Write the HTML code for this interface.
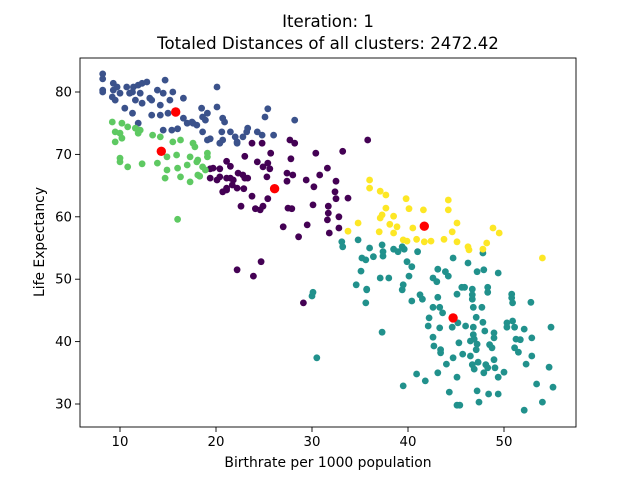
<!DOCTYPE html>
<html><head><meta charset="utf-8"><style>
html,body{margin:0;padding:0;background:#fff;}
svg{display:block;font-family:"DejaVu Sans","Liberation Sans",sans-serif;}
</style></head><body>
<svg id="chart" width="640" height="480" viewBox="0 0 640 480">
<rect x="0" y="0" width="640" height="480" fill="#fff"/>
<text x="328" y="27" text-anchor="middle" font-size="16.6" fill="#000">Iteration: 1</text>
<text x="328" y="49" text-anchor="middle" font-size="16.6" fill="#000">Totaled Distances of all clusters: 2472.42</text>
<g id="plot"></g>
<g id="axes"></g>
<text x="328" y="467" text-anchor="middle" font-size="13.9" fill="#000">Birthrate per 1000 population</text>
<text x="44" y="242" text-anchor="middle" font-size="13.9" fill="#000" transform="rotate(-90 44 242)">Life Expectancy</text>
</svg>
<script>
const xTicks=[10,20,30,40,50];
const yTicks=[30,40,50,60,70,80];
const clusterNames=['purple','blue','teal','green','yellow'];
const clusterColors=['#440154','#3b528b','#21918c','#5ec962','#fde725'];
const bluePoints=[[8.2,82.9],[8.2,82.1],[8.2,80.3],[8.2,80.0],[9.3,81.4],[9.3,80.3],[9.2,79.2],[9.7,80.8],[10,79.8],[9.5,78.7],[10.7,80.8],[11.0,79.8],[11.4,80.8],[11.9,81.1],[12.3,81.4],[12.8,81.6],[12.1,79.8],[11.6,78.7],[12.3,78.2],[11.3,80.0],[13.1,79.0],[13.3,78.7],[13.9,80.3],[14.7,81.9],[14.5,79.8],[15.5,80.0],[14.2,77.9],[15.2,78.7],[16.6,79.0],[10.5,77.4],[11.3,76.6],[11.9,75.0],[13.3,76.3],[14.2,76.3],[15.0,76.6],[16.6,75.8],[17.0,75.0],[17.5,75.2],[18.0,74.7],[19.1,76.6],[18.9,75.5],[20.1,80.8],[20.9,75.2],[14.5,73.9],[15.4,73.9],[16.0,74.1],[18.6,73.6],[19.1,72.3],[20.6,73.6],[20.7,72.3],[21.5,73.6],[22.0,72.8],[22.2,72.0],[22.8,72.8],[23.2,73.6],[18.5,77.4],[20.1,77.6],[25.4,77.3],[25.1,76.0],[28.2,75.5],[20.7,75.8],[18.6,76.0],[23.3,74.2],[24.3,73.6],[24.8,73.1],[26.0,73.1],[20.4,71.8],[19.4,72.5],[22.2,71.8],[17.6,75.0]];
const greenPoints=[[9.2,75.2],[10.2,75.0],[9.5,73.6],[10,73.4],[10.2,72.6],[9.5,72.0],[10.8,74.4],[11.6,74.2],[11.9,73.4],[12.1,73.9],[13.4,73.1],[14.2,72.8],[15.5,72.0],[16.3,72.3],[17.6,71.8],[17.8,71.2],[10,69.4],[10,68.8],[10.8,68.0],[12.3,68.5],[13.9,68.6],[14.9,69.6],[15.9,69.9],[17.3,69.6],[18.1,69.1],[19.1,70.2],[19.1,69.6],[14.9,67.5],[14.7,66.2],[16.0,67.8],[16.3,66.4],[17.0,68.3],[18.1,66.7],[17.3,65.6],[18.0,68.8],[18.6,68.0],[18.9,67.5],[18.3,66.5],[16.0,59.6]];
const purplePoints=[[23.75,71.8],[24.8,71.8],[27.7,72.3],[28.2,71.8],[25.7,70.2],[23.0,69.7],[30.4,70.2],[33.2,70.5],[35.8,72.3],[21.1,68.9],[24.3,68.8],[25.4,68.6],[27.8,69.3],[19.4,67.7],[20.4,67.7],[21.5,68.1],[24.9,68.0],[25.6,67.7],[31.6,67.8],[22.3,67.0],[22.8,66.7],[27.4,67.0],[28.0,66.7],[30.8,66.7],[19.4,66.2],[20.1,65.9],[21.1,66.2],[21.8,65.9],[23.0,66.2],[23.3,66.2],[25.3,66.4],[27.4,65.7],[29.4,65.9],[32.5,65.7],[21.7,65.1],[20.7,64.0],[21.1,64.3],[22.2,64.6],[22.9,64.5],[30.2,64.8],[32.4,64.0],[23.75,63.3],[25.4,62.9],[32.5,62.9],[33.75,63.0],[22.6,61.7],[24.9,61.7],[24.1,61.3],[24.6,61.1],[27.5,61.4],[27.9,61.3],[30.1,61.9],[31.7,61.7],[31.7,60.6],[31.6,59.5],[32.8,60.0],[27.0,58.4],[29.5,58.7],[32.8,58.2],[28.6,56.8],[31.8,57.4],[24.7,52.8],[22.2,51.5],[23.9,50.5],[29.1,46.2],[19.7,67.8],[20.4,66.4],[21.5,66.2],[21.1,64.6]];
const yellowPoints=[[36.0,65.9],[36.0,64.6],[37.1,64.1],[37.7,63.5],[39.8,62.9],[44.2,62.7],[40.1,61.3],[41.6,61.1],[44.2,61.1],[37.7,61.4],[37.3,60.3],[37.1,59.8],[38.5,60.1],[34.8,59.0],[33.75,57.7],[38.1,58.8],[38.85,58.4],[38.5,57.4],[37.0,57.6],[40.5,58.2],[45.1,59.0],[44.6,57.6],[39.5,56.3],[39.9,56.1],[40.9,56.4],[41.7,56.0],[42.4,56.1],[43.75,56.4],[45.1,56.0],[46.25,55.2],[46.35,54.7],[48.2,55.8],[47.8,54.8],[48.85,58.2],[49.5,57.4],[54.0,53.4]];
const tealPoints=[[33.1,56.0],[33.2,55.2],[34.8,56.3],[36.0,55.0],[37.3,55.5],[37.4,54.4],[37.4,53.7],[35.2,53.4],[35.6,53.1],[36.4,53.6],[38.5,54.8],[38.96,54.4],[39.4,55.2],[39.6,54.8],[41.0,54.4],[39.9,52.8],[40.4,52.0],[35.1,51.3],[37.1,50.2],[38.0,50.2],[40.1,50.5],[34.6,49.1],[35.7,48.4],[35.6,46.2],[39.5,49.1],[39.4,48.3],[40.4,46.5],[41.25,47.5],[41.5,46.8],[37.3,41.5],[42.6,50.2],[43.0,49.6],[43.1,51.6],[43.9,51.2],[44.2,50.5],[44.7,53.4],[46.25,52.6],[47.2,51.2],[47.9,51.5],[47.8,54.2],[49.4,51.0],[45.6,48.7],[45.9,48.7],[45.1,47.6],[46.7,48.4],[46.7,47.5],[46.7,46.8],[48.3,48.7],[48.3,47.9],[50.8,47.6],[50.8,47.0],[50.9,46.2],[52.8,46.3],[43.1,47.1],[42.6,45.5],[43.3,45.5],[43.6,44.6],[42.2,43.8],[42.1,42.5],[43.3,42.2],[44.6,42.3],[45.2,43.0],[46.0,42.5],[46.8,42.3],[46.8,45.5],[47.7,45.5],[47.1,43.9],[47.8,43.1],[48.0,41.7],[48.96,41.4],[48.96,40.6],[46.8,41.1],[46.9,40.4],[46.5,40.1],[42.6,40.7],[42.7,39.3],[43.4,38.7],[43.4,38.2],[45.3,39.8],[45.7,38.0],[46.5,37.7],[47.1,38.7],[47.2,39.6],[48.5,39.5],[48.75,39.0],[50.3,43.0],[50.3,42.3],[50.9,43.3],[51.1,42.3],[52.1,42.0],[51.25,40.4],[51.7,40.3],[52.9,40.6],[51.1,39.0],[51.5,38.3],[52.9,37.7],[54.9,42.3],[44.7,37.4],[44.0,36.4],[46.7,36.3],[46.9,35.6],[47.3,36.7],[48.1,36.3],[48.96,37.1],[47.9,35.0],[48.3,35.8],[49.06,35.8],[50.0,35.1],[49.4,34.3],[52.3,36.4],[54.7,35.9],[40.9,34.8],[41.8,33.7],[43.1,35.0],[45.1,34.3],[39.5,32.9],[44.3,31.9],[47.2,32.1],[48.4,31.6],[49.4,31.6],[53.4,33.2],[55.1,32.7],[45.1,29.8],[45.4,29.8],[47.4,30.3],[54.0,30.3],[52.1,29.0],[35.7,48.3],[30.0,47.3],[30.1,47.9],[30.5,37.4]];
const centroidX=[26.1,15.8,44.7,14.3,41.7];
const centroidY=[64.5,76.8,43.8,70.5,58.5];

const L=80,R=576,T=58,B=427;
function sx(v){return 120+(v-10)*9.6;}
function sy(v){return 92+(80-v)*6.24;}
const NS='http://www.w3.org/2000/svg';
const plot=document.getElementById('plot');
const axes=document.getElementById('axes');
const clusters=[purplePoints,bluePoints,tealPoints,greenPoints,yellowPoints];
clusters.forEach(function(pts,ci){
  pts.forEach(function(p,i){
    const c=document.createElementNS(NS,'circle');
    c.setAttribute('cx',sx(p[0]).toFixed(1));
    c.setAttribute('cy',sy(p[1]).toFixed(1));
    c.setAttribute('r','3.4');
    c.setAttribute('fill',clusterColors[ci]);
    
    
    plot.appendChild(c);
  });
});
centroidX.forEach(function(x,i){
  const c=document.createElementNS(NS,'circle');
  c.setAttribute('cx',sx(x).toFixed(1));
  c.setAttribute('cy',sy(centroidY[i]).toFixed(1));
  c.setAttribute('r','4.7');
  c.setAttribute('fill','#ff0000');
  
  
  plot.appendChild(c);
});
const frame=document.createElementNS(NS,'rect');
frame.setAttribute('x',L);frame.setAttribute('y',T);
frame.setAttribute('width',R-L);frame.setAttribute('height',B-T);
frame.setAttribute('fill','none');frame.setAttribute('stroke','#000');frame.setAttribute('stroke-width','0.9');


axes.appendChild(frame);
xTicks.forEach(function(t){
  const x=sx(t);
  const ln=document.createElementNS(NS,'line');
  ln.setAttribute('x1',x);ln.setAttribute('x2',x);ln.setAttribute('y1',B);ln.setAttribute('y2',B+5);
  ln.setAttribute('stroke','#000');ln.setAttribute('stroke-width','0.9');
  
  
  axes.appendChild(ln);
  const tx=document.createElementNS(NS,'text');
  tx.setAttribute('x',x);tx.setAttribute('y',B+19);tx.setAttribute('text-anchor','middle');tx.setAttribute('font-size','13.3');
  tx.textContent=String(t);
  
  
  axes.appendChild(tx);
});
yTicks.forEach(function(t){
  const y=sy(t);
  const ln=document.createElementNS(NS,'line');
  ln.setAttribute('x1',L-5);ln.setAttribute('x2',L);ln.setAttribute('y1',y);ln.setAttribute('y2',y);
  ln.setAttribute('stroke','#000');ln.setAttribute('stroke-width','0.9');
  
  
  axes.appendChild(ln);
  const tx=document.createElementNS(NS,'text');
  tx.setAttribute('x',L-8);tx.setAttribute('y',y+4.5);tx.setAttribute('text-anchor','end');tx.setAttribute('font-size','13.3');
  tx.textContent=String(t);
  
  
  axes.appendChild(tx);
});
</script>
</body></html>
